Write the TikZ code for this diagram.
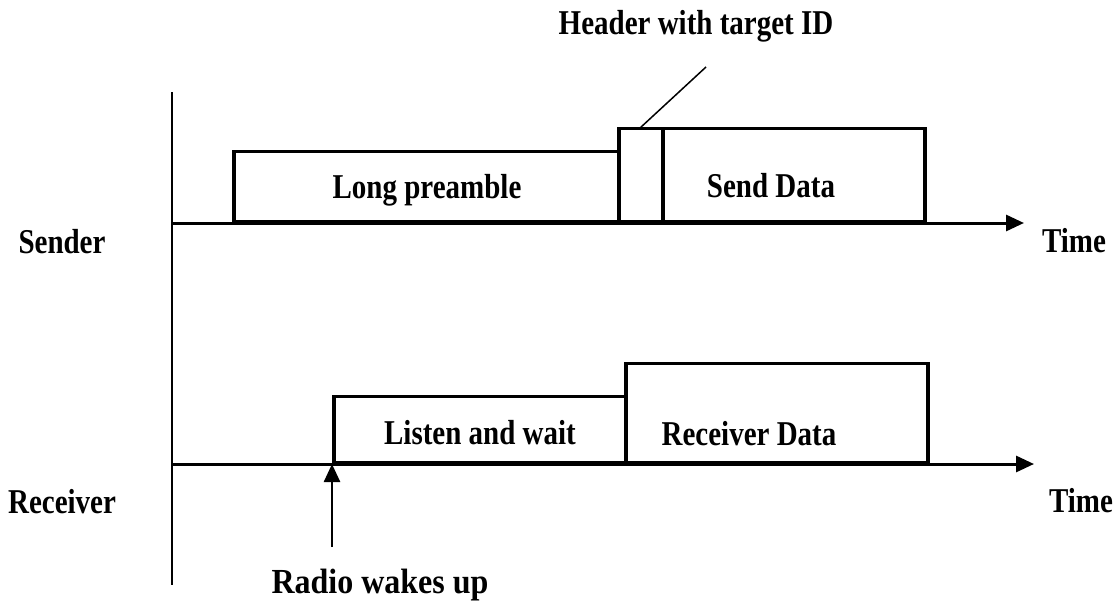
\documentclass[tikz,border=0pt]{standalone}
\usepackage{fontspec}
\usepackage{graphicx}
\setmainfont{Liberation Serif}
\usetikzlibrary{arrows.meta}
\newcommand{\tallT}[1]{\scalebox{1}[1.2]{#1}}
\begin{document}
\begin{tikzpicture}[x=1pt,y=-1pt,
  box/.style={draw, line width=3.5pt, inner sep=0pt, anchor=south west},
  lbl/.style={font=\fontsize{29}{34}\selectfont\bfseries, inner sep=0pt, anchor=base},
  axis/.style={line width=3pt, -{Triangle[length=18pt,width=16pt]}},
]
\useasboundingbox (0,0) rectangle (1116,602);
% vertical axis
\coordinate (vtop) at (172,92);
\coordinate (vbot) at (172,585);
\draw[line width=2pt] (vtop) -- (vbot);
% sender
\coordinate (s0) at (172,223);
\coordinate (s1) at (1024,223);
\node[box, minimum width=385pt, minimum height=70pt] (pre) at (232,223) {};
\node[box, minimum width=44pt, minimum height=93pt] (hdr) at (617,223) {};
\node[box, minimum width=262pt, minimum height=93pt] (send) at (661,223) {};
\draw[axis] (s0) -- (s1);
\node[lbl] at (427,198) {\tallT{Long preamble}};
\node[lbl] at (771,197) {\tallT{Send Data}};
\node[lbl] (sender) at (62,253) {\tallT{Sender}};
\node[lbl] (time1) at (1074,252) {\tallT{Time}};
\coordinate (lead) at (706,67);
\draw[line width=1.5pt] (640,128) -- (lead);
\node[lbl] (hdrtxt) at (696,35) {\tallT{Header with target ID}};
% receiver
\coordinate (r0) at (172,464);
\coordinate (r1) at (1034,464);
\node[box, minimum width=292pt, minimum height=66pt] (listen) at (332,464) {};
\node[box, minimum width=302pt, minimum height=99pt] (recv) at (624,464) {};
\draw[axis] (r0) -- (r1);
\node[lbl] at (480,444) {\tallT{Listen and wait}};
\node[lbl] at (749,445) {\tallT{Receiver Data}};
\node[lbl] (receiver) at (62,513) {\tallT{Receiver}};
\node[lbl] (time2) at (1081,512) {\tallT{Time}};
\coordinate (wake) at (332,547);
\draw[line width=2.5pt, -{Triangle[length=18pt,width=16pt]}] (wake) -- (listen.south west);
\node[font=\fontsize{32}{36}\selectfont\bfseries, inner sep=0pt, anchor=base] (radio) at (380,593) {\scalebox{1}[1.1]{Radio wakes up}};
\end{tikzpicture}
\end{document}
